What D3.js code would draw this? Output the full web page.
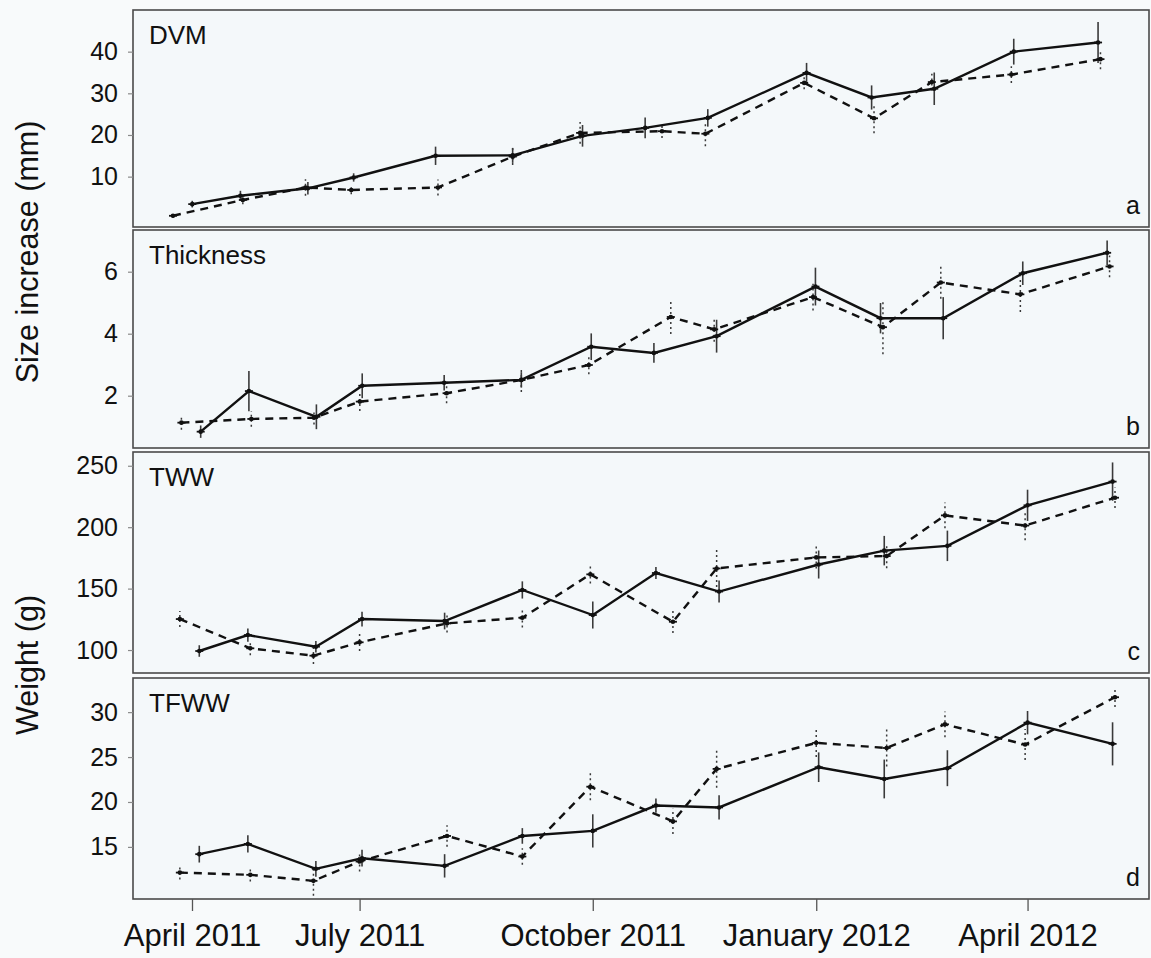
<!DOCTYPE html>
<html>
<head>
<meta charset="utf-8">
<script src="https://cdn.jsdelivr.net/npm/d3@7"></script>
<style>
  body { margin: 0; background: #f8fafb; }
  svg { display: block; font-family: "Liberation Sans", Arial, sans-serif; }
</style>
</head>
<body>
<svg id="chart" width="1151" height="958"></svg>
<script>
// Sampling dates of the two groups
const solidDates = ["2011-04-26","2011-05-16","2011-06-13","2011-07-02","2011-08-05","2011-09-06","2011-10-05",
                    "2011-10-31","2011-11-26","2012-01-06","2012-02-02","2012-02-28","2012-04-01","2012-05-06"];
const dashedDates = ["2011-04-18","2011-05-17","2011-06-12","2011-07-01","2011-08-06","2011-09-06","2011-10-04",
                     "2011-11-07","2011-11-25","2012-01-05","2012-02-03","2012-02-27","2012-03-31","2012-05-07"];

// Panel titles and letters
const panelNames = ["DVM", "Thickness", "TWW", "TFWW"];
const panelLetters = ["a", "b", "c", "d"];

// DVM (mm)
const dvmSolid     = [3.4, 5.4, 7.2, 9.8, 15.0, 15.1, 19.8, 21.7, 24.1, 34.9, 29.0, 31.1, 40.0, 42.2];
const dvmSolidErr  = [0.8, 1.2, 1.5, 1.0, 2.2, 1.8, 2.6, 2.5, 2.1, 2.4, 2.9, 3.9, 3.1, 4.9];
const dvmDashed    = [0.6, 4.4, 7.4, 6.8, 7.4, 14.8, 20.5, 20.9, 20.3, 32.5, 24.0, 32.7, 34.5, 38.2];
const dvmDashedErr = [0.5, 1.0, 2.0, 1.0, 1.9, 2.0, 2.6, 1.6, 3.0, 1.5, 3.6, 2.0, 2.0, 2.4];

// Thickness (mm)
const thkSolid     = [0.84, 2.15, 1.32, 2.32, 2.42, 2.51, 3.58, 3.38, 3.92, 5.52, 4.5, 4.5, 5.95, 6.61];
const thkSolidErr  = [0.2, 0.65, 0.4, 0.4, 0.25, 0.25, 0.43, 0.32, 0.53, 0.61, 0.49, 0.68, 0.38, 0.4];
const thkDashed    = [1.13, 1.25, 1.29, 1.81, 2.08, 2.51, 2.99, 4.54, 4.14, 5.18, 4.21, 5.65, 5.27, 6.17];
const thkDashedErr = [0.23, 0.25, 0.22, 0.3, 0.32, 0.39, 0.3, 0.55, 0.4, 0.43, 0.87, 0.52, 0.57, 0.35];

// TWW (g)
const twwSolid     = [99.2, 112.2, 102.7, 125.2, 123.6, 148.9, 128.5, 162.7, 147.6, 169.6, 180.9, 184.8, 217.8, 237.1];
const twwSolidErr  = [4.7, 5.4, 4.7, 6, 6.8, 7, 11, 4.8, 9, 11.4, 12, 12.4, 12.7, 15.6];
const twwDashed    = [125.2, 101.4, 95.4, 106.3, 121.7, 126.3, 161.6, 123, 166.4, 175.4, 176.5, 209.6, 201.3, 224];
const twwDashedErr = [6.5, 5.7, 6.8, 7, 7.5, 7.9, 7.5, 9.2, 15, 9, 10, 10.5, 12, 8.3];

// TFWW (g)
const tfwwSolid     = [14.19, 15.33, 12.56, 13.74, 12.89, 16.22, 16.78, 19.6, 19.39, 23.87, 22.56, 23.76, 28.83, 26.47];
const tfwwSolidErr  = [0.93, 0.96, 0.87, 0.93, 1.3, 0.87, 1.85, 0.8, 1.35, 1.65, 2.16, 2.0, 1.3, 2.4];
const tfwwDashed    = [12.14, 11.89, 11.22, 13.37, 16.22, 13.93, 21.7, 17.84, 23.68, 26.58, 26.01, 28.64, 26.39, 31.66];
const tfwwDashedErr = [0.78, 0.75, 1.67, 1.1, 1.2, 0.93, 1.5, 1.4, 2.1, 1.56, 2.07, 1.43, 1.73, 1.1];

// Axis ticks
const yTicks = [[10, 20, 30, 40], [2, 4, 6], [100, 150, 200, 250], [15, 20, 25, 30]];
const yDomains = [[-2.09, 50], [0.313, 7.345], [81.3, 261.2], [9.2, 33.8]];
const xTickDates  = ["2011-04-23", "2011-07-01", "2011-10-05", "2012-01-05", "2012-04-01"];
const xTickLabels = ["April 2011", "July 2011", "October 2011", "January 2012", "April 2012"];
const xDomain = ["2011-03-30", "2012-05-21"];

const parse = d3.utcParse("%Y-%m-%d");

const series = [
  [dvmSolid, dvmSolidErr, dvmDashed, dvmDashedErr],
  [thkSolid, thkSolidErr, thkDashed, thkDashedErr],
  [twwSolid, twwSolidErr, twwDashed, twwDashedErr],
  [tfwwSolid, tfwwSolidErr, tfwwDashed, tfwwDashedErr]
];

// Layout
const frameLeft = 133, frameRight = 1149;
const layout = [
  { top: 10,  bottom: 227, xRange: [127.2, 1134.2] },
  { top: 230, bottom: 448, xRange: [135.6, 1143.3] },
  { top: 452, bottom: 673, xRange: [133.7, 1149] },
  { top: 678, bottom: 899, xRange: [133.7, 1149] }
];

const svg = d3.select("#chart");
svg.append("rect").attr("width", 1151).attr("height", 958).attr("fill", "#f8fafb");

let lastX = null;

layout.forEach((p, i) => {
  const x = d3.scaleUtc().domain(xDomain.map(parse)).range(p.xRange);
  const y = d3.scaleLinear().domain(yDomains[i]).range([p.bottom, p.top]);
  if (i === 3) lastX = x;

  const g = svg.append("g");

  g.append("rect")
    .attr("x", frameLeft).attr("y", p.top)
    .attr("width", frameRight - frameLeft).attr("height", p.bottom - p.top)
    .attr("fill", "#f4f8fa")
    .attr("stroke", "#4a4a4a").attr("stroke-width", 1.6);

  // y axis
  const ya = g.append("g")
    .attr("transform", `translate(${frameLeft},0)`)
    .call(d3.axisLeft(y).tickValues(yTicks[i]).tickSize(5).tickPadding(10).tickFormat(d3.format("d")));
  ya.select(".domain").remove();
  ya.selectAll(".tick line").attr("stroke", "#8a8a8a").attr("stroke-width", 1.2);
  ya.selectAll(".tick text").attr("font-size", 25).attr("fill", "#111")
    .attr("font-family", "'Liberation Sans', Arial, sans-serif");

  // panel title and letter
  g.append("text").attr("x", 149).attr("y", p.top + 34)
    .attr("font-size", 26).attr("fill", "#111").text(panelNames[i]);
  g.append("text").attr("x", 1140).attr("y", p.bottom - 13)
    .attr("text-anchor", "end").attr("font-size", 25).attr("fill", "#111").text(panelLetters[i]);

  const [sv, se, dv, de] = series[i];
  const solid = sv.map((v, k) => ({ date: parse(solidDates[k]), v, e: se[k] }));
  const dashed = dv.map((v, k) => ({ date: parse(dashedDates[k]), v, e: de[k] }));

  const line = d3.line().x(d => x(d.date)).y(d => y(d.v));

  // error bars
  g.selectAll(null).data(solid).join("line")
    .attr("x1", d => x(d.date)).attr("x2", d => x(d.date))
    .attr("y1", d => y(d.v - d.e)).attr("y2", d => y(d.v + d.e))
    .attr("stroke", "#3a3a3a").attr("stroke-width", 1.6);
  g.selectAll(null).data(dashed).join("line")
    .attr("x1", d => x(d.date)).attr("x2", d => x(d.date))
    .attr("y1", d => y(d.v - d.e)).attr("y2", d => y(d.v + d.e))
    .attr("stroke", "#3a3a3a").attr("stroke-width", 1.5).attr("stroke-dasharray", "2,3");

  // lines
  g.append("path").datum(dashed).attr("d", line)
    .attr("fill", "none").attr("stroke", "#111").attr("stroke-width", 2.4)
    .attr("stroke-dasharray", "8,6");
  g.append("path").datum(solid).attr("d", line)
    .attr("fill", "none").attr("stroke", "#111").attr("stroke-width", 2.4);

  // point markers
  [solid, dashed].forEach(data => {
    g.selectAll(null).data(data).join("circle")
      .attr("cx", d => x(d.date)).attr("cy", d => y(d.v)).attr("r", 2.3).attr("fill", "#111");
    g.selectAll(null).data(data).join("line")
      .attr("x1", d => x(d.date) - 4).attr("x2", d => x(d.date) + 4)
      .attr("y1", d => y(d.v)).attr("y2", d => y(d.v))
      .attr("stroke", "#111").attr("stroke-width", 1.8);
  });
});

// x axis under the bottom panel
const xa = svg.append("g")
  .attr("transform", `translate(0,${layout[3].bottom})`)
  .call(d3.axisBottom(lastX).tickValues(xTickDates.map(parse)).tickSize(12).tickPadding(13)
    .tickFormat((d, k) => xTickLabels[k]));
xa.select(".domain").remove();
xa.selectAll(".tick line").attr("stroke", "#555").attr("stroke-width", 1.3);
xa.selectAll(".tick text").attr("font-size", 31).attr("fill", "#111")
  .attr("font-family", "'Liberation Sans', Arial, sans-serif");

// y axis titles
svg.append("text")
  .attr("transform", "translate(38,252) rotate(-90)")
  .attr("text-anchor", "middle").attr("font-size", 30.5).attr("fill", "#111")
  .text("Size increase (mm)");
svg.append("text")
  .attr("transform", "translate(38,665) rotate(-90)")
  .attr("text-anchor", "middle").attr("font-size", 30.5).attr("fill", "#111")
  .text("Weight (g)");
</script>
</body>
</html>
